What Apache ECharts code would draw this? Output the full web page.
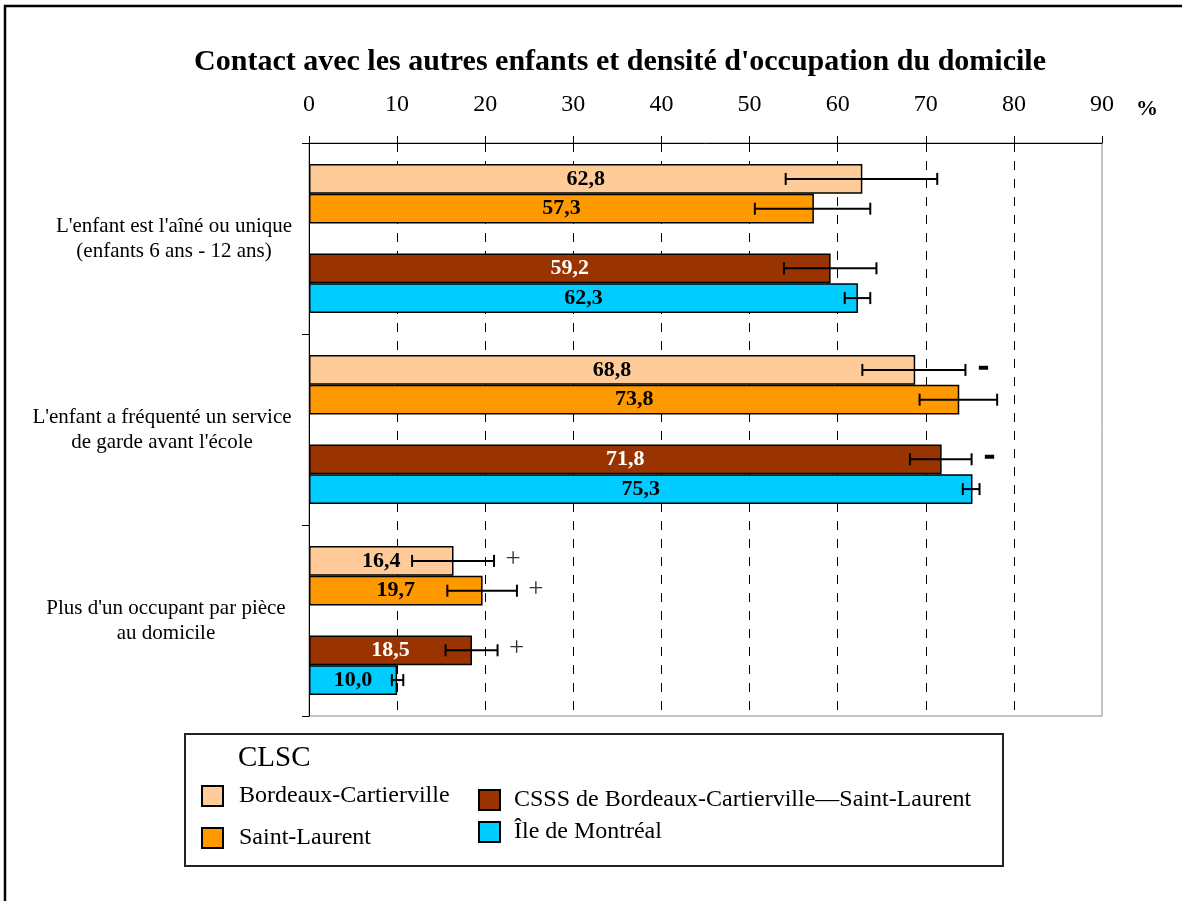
<!DOCTYPE html>
<html>
<head>
<meta charset="utf-8">
<script src="https://cdn.jsdelivr.net/npm/echarts@6/dist/echarts.min.js"></script>
<style>html,body{margin:0;padding:0;background:#fff}#c{width:1182px;height:901px}</style>
</head>
<body>
<div id="c"></div>
<script>
var categories = ["L'enfant est l'aîné ou unique\n(enfants 6 ans - 12 ans)",
                  "L'enfant a fréquenté un service\nde garde avant l'école",
                  "Plus d'un occupant par pièce\nau domicile"];
var xTicks = [0, 10, 20, 30, 40, 50, 60, 70, 80, 90];
var seriesNames = ["Bordeaux-Cartierville", "Saint-Laurent", "CSSS de Bordeaux-Cartierville—Saint-Laurent", "Île de Montréal"];
var bordeaux     = [62.8, 68.8, 16.4];
var bordeauxLow  = [54.1, 62.8, 11.7];
var bordeauxHigh = [71.3, 74.5, 21.0];
var bordeauxFlag = ["", "-", "+"];
var stLaurent     = [57.3, 73.8, 19.7];
var stLaurentLow  = [50.6, 69.3, 15.7];
var stLaurentHigh = [63.7, 78.1, 23.6];
var stLaurentFlag = ["", "", "+"];
var csss     = [59.2, 71.8, 18.5];
var csssLow  = [53.9, 68.2, 15.5];
var csssHigh = [64.4, 75.2, 21.4];
var csssFlag = ["", "-", "+"];
var ile     = [62.3, 75.3, 10.0];
var ileLow  = [60.8, 74.2, 9.4];
var ileHigh = [63.7, 76.1, 10.7];
var ileFlag = ["", "", ""];

var FONT = "'Liberation Serif', 'Times New Roman', serif";
var GAP = 0.22;
var colors = ['#FFCC99', '#FF9900', '#993300', '#00CCFF'];
var labelColors = ['#000', '#000', '#fff', '#000'];

var values = [bordeaux, stLaurent, csss, ile];
var lows = [bordeauxLow, stLaurentLow, csssLow, ileLow];
var highs = [bordeauxHigh, stLaurentHigh, csssHigh, ileHigh];
var flags = [bordeauxFlag, stLaurentFlag, csssFlag, ileFlag];
var slots = [0, 1, 3, 4];

var errData = [], errFlags = [];
for (var s = 0; s < 4; s++) {
  for (var c = 0; c < categories.length; c++) {
    errData.push([c, lows[s][c], highs[s][c], slots[s]]);
    errFlags.push(flags[s][c]);
  }
}

function barSeries(i) {
  return {
    name: seriesNames[i], type: 'bar', data: values[i],
    barGap: 0, barCategoryGap: (GAP * 100) + '%',
    itemStyle: { color: colors[i], borderColor: '#000', borderWidth: 1.5 },
    label: { show: true, position: 'inside', fontFamily: FONT, fontWeight: 'bold', fontSize: 22,
             color: labelColors[i], formatter: function (p) { return p.value.toFixed(1).replace('.', ','); } },
    emphasis: { disabled: true }, silent: true, z: 2
  };
}

var series = [barSeries(0), barSeries(1),
  { name: 'gap', type: 'bar', data: [], barGap: 0, barCategoryGap: (GAP * 100) + '%', silent: true },
  barSeries(2), barSeries(3),
  { type: 'custom', z: 5, silent: true, data: errData,
    encode: { x: [1, 2], y: 0 },
    renderItem: function (params, api) {
      var cat = api.value(0), lo = api.value(1), hi = api.value(2), slot = api.value(3);
      var base = api.coord([0, cat]);
      var band = api.size([0, 1])[1];
      var total = band * (1 - GAP);
      var bw = total / 5;
      var y = base[1] - total / 2 + (slot + 0.5) * bw;
      var x1 = api.coord([lo, cat])[0], x2 = api.coord([hi, cat])[0];
      var h = 6;
      var st = { stroke: '#000', lineWidth: 2 };
      var children = [
        { type: 'line', shape: { x1: x1, y1: y, x2: x2, y2: y }, style: st },
        { type: 'line', shape: { x1: x1, y1: y - h, x2: x1, y2: y + h }, style: st },
        { type: 'line', shape: { x1: x2, y1: y - h, x2: x2, y2: y + h }, style: st }
      ];
      var f = errFlags[params.dataIndex];
      if (f === '+') {
        children.push({ type: 'text', style: { text: '+', x: x2 + 19, y: y - 1, fill: '#333',
          font: '27px ' + FONT, align: 'center', verticalAlign: 'middle' } });
      } else if (f === '-') {
        children.push({ type: 'text', style: { text: '-', x: x2 + 18, y: y - 3, fill: '#000',
          stroke: '#000', lineWidth: 1.5,
          font: 'bold 30px ' + FONT, align: 'center', verticalAlign: 'middle' } });
      }
      return { type: 'group', children: children };
    }
  }
];

var chart = echarts.init(document.getElementById('c'), null, { renderer: 'canvas' });
chart.setOption({
  animation: false,
  backgroundColor: '#fff',
  title: {
    text: 'Contact avec les autres enfants et densité d\'occupation du domicile',
    left: 615, top: 42, textAlign: 'center',
    textStyle: { fontFamily: FONT, fontWeight: 'bold', fontSize: 30, color: '#000' }
  },
  grid: { left: 309, right: 80, top: 143, bottom: 185, show: true, borderColor: '#888', borderWidth: 1, backgroundColor: 'transparent' },
  xAxis: {
    type: 'value', position: 'top', min: 0, max: 90, interval: 10,
    axisLine: { show: true, lineStyle: { color: '#000', width: 1 } },
    axisTick: { show: true, length: 7, lineStyle: { color: '#000' } },
    axisLabel: { margin: 26, fontFamily: FONT, fontSize: 24, color: '#000',
                 formatter: function (v) { return xTicks.indexOf(v) >= 0 ? String(v) : ''; } },
    splitLine: { show: true, showMinLine: false, showMaxLine: false, lineStyle: { color: '#000', type: [9, 9], width: 1 } }
  },
  yAxis: {
    type: 'category', data: categories, inverse: true,
    axisLine: { show: true, lineStyle: { color: '#000', width: 1 } },
    axisTick: { show: true, length: 7, lineStyle: { color: '#000' } },
    axisLabel: {
      margin: 16, align: 'right', fontFamily: FONT, fontSize: 21, color: '#000',
      formatter: function (v, i) {
        var lines = v.split('\n');
        return lines.map(function (l) { return '{c' + i + '|' + l + '}'; }).join('\n');
      },
      rich: {
        c0: { width: 238, align: 'center', fontFamily: FONT, fontSize: 21, lineHeight: 25, color: '#000' },
        c1: { width: 262, align: 'center', fontFamily: FONT, fontSize: 21, lineHeight: 25, color: '#000' },
        c2: { width: 254, align: 'center', fontFamily: FONT, fontSize: 21, lineHeight: 25, color: '#000' }
      }
    },
    splitLine: { show: false }
  },
  legend: [
    { data: [seriesNames[0], seriesNames[1]], orient: 'vertical', left: 201, top: 784, padding: 0,
      itemWidth: 21, itemHeight: 20, itemGap: 18, icon: 'rect', selectedMode: false,
      textStyle: { fontFamily: FONT, fontSize: 24, color: '#000', padding: [0, 0, 0, 11] } },
    { data: [seriesNames[2], seriesNames[3]], orient: 'vertical', left: 478, top: 788, padding: 0,
      itemWidth: 21, itemHeight: 20, itemGap: 8, icon: 'rect', selectedMode: false,
      textStyle: { fontFamily: FONT, fontSize: 24, color: '#000', padding: [0, 0, 0, 9] } }
  ],
  graphic: [
    { type: 'rect', shape: { x: 5, y: 6, width: 1300, height: 1000 }, style: { fill: 'none', stroke: '#000', lineWidth: 2.5 }, silent: true },
    { type: 'rect', shape: { x: 185, y: 734, width: 818, height: 132 }, style: { fill: 'none', stroke: '#222', lineWidth: 2 }, silent: true },
    { type: 'text', x: 238, y: 758, style: { text: 'CLSC', font: '29px ' + FONT, fill: '#000', verticalAlign: 'middle' }, silent: true },
    { type: 'text', x: 1147, y: 109, style: { text: '%', font: 'bold 22px ' + FONT, fill: '#000', align: 'center', verticalAlign: 'middle' }, silent: true }
  ],
  series: series
});
</script>
</body>
</html>
